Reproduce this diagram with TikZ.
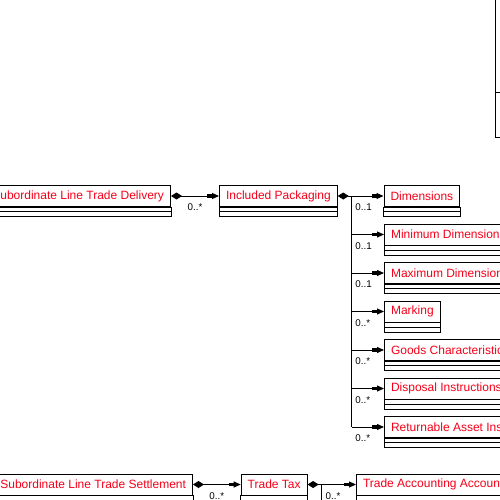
\documentclass[tikz,border=0pt]{standalone}
\usepackage{fontspec}
\setmainfont{Liberation Sans}
\usetikzlibrary{arrows.meta}

\definecolor{clsred}{RGB}{245,0,25}

% lower compartments of a class box
\newcommand{\compartments}[1]{
	\draw[line width=0.9pt] (#1.south west) rectangle ([yshift=-9.5pt]#1.south east);
	\draw[line width=0.9pt] ([yshift=-4.7pt]#1.south west) -- ([yshift=-4.7pt]#1.south east);
}

\begin{document}
\begin{tikzpicture}[x=1pt,y=-1pt]
	\tikzstyle{cls} = [
		rectangle, draw=black, line width=1pt, minimum height=21pt,
		inner xsep=6.5pt, inner ysep=0pt, text=clsred, font=\fontsize{12}{14}\selectfont
	]
	\tikzstyle{mult} = [
		inner sep=0pt, font=\fontsize{9.8}{11}\selectfont
	]
	\tikzstyle{conn} = [
		line width=1pt, -{Square[length=5pt,width=3.5pt,sep=0pt]Triangle[length=7pt,width=6pt]}
	]
	\tikzstyle{aggr} = [
		line width=1pt, {Diamond[length=11pt,width=7pt]}-{Square[length=5pt,width=3.5pt,sep=0pt]Triangle[length=7pt,width=6pt]}
	]
	\tikzstyle{owner} = [
		line width=1pt, {Diamond[length=11pt,width=7pt]}-
	]

	\useasboundingbox (0,0) rectangle (500,500);
	\clip (0,0) rectangle (500,500);

	% box top right
	\node (topBox) [draw, line width=1pt, anchor=south west, minimum width=30pt, minimum height=170pt, inner sep=0pt] at (494.7,137.7) {};
	\draw[line width=1pt] (topBox.west |- 0,93) -- (topBox.east |- 0,93);

	% Subordinate Line Trade Delivery
	\node (delivery) [cls, anchor=north east] at (171,185) {Subordinate Line Trade Delivery};
	\compartments{delivery}

	% Included Packaging
	\node (packaging) [cls, anchor=north west] at (219,185) {Included Packaging};
	\compartments{packaging}

	% children of Included Packaging
	\node (dimensions) [cls, anchor=north west] at (383.5,185)   {Dimensions};
	\node (minDim)     [cls, anchor=north west] at (384,223.5)   {Minimum Dimensions};
	\node (maxDim)     [cls, anchor=north west] at (384,262)     {Maximum Dimensions};
	\node (marking)    [cls, anchor=north west] at (384,300.5)   {Marking};
	\node (goods)      [cls, anchor=north west] at (384,339)     {Goods Characteristic};
	\node (disposal)   [cls, anchor=north west] at (384,377.5)   {Disposal Instructions};
	\node (returnable) [cls, anchor=north west] at (384,416)     {Returnable Asset Instructions};
	\foreach \target in {dimensions,minDim,maxDim,marking,goods,disposal,returnable}
		{\compartments{\target}}

	% Subordinate Line Trade Settlement
	\node (settlement) [cls, anchor=north east] at (193,473.5) {Subordinate Line Trade Settlement};
	\compartments{settlement}

	% Trade Tax
	\node (tradeTax) [cls, anchor=north west] at (240.7,473.5) {Trade Tax};
	\compartments{tradeTax}

	% Trade Accounting Account
	\node (accounting) [cls, anchor=north west] at (356,473.5) {Trade Accounting Account};
	\compartments{accounting}

	% Delivery -> Packaging
	\draw[aggr] (delivery.east) -- (packaging.west)
		node (lblPack) [mult, midway, below=7.5pt] {0..*};

	% Packaging -> children
	\coordinate (packTrunk) at ([xshift=14pt]packaging.east);
	\draw[owner] (packaging.east) -- (packTrunk);
	\draw[line width=1pt] (packTrunk) -- (packTrunk |- returnable.west);
	\foreach \target/\card in {dimensions/0..1, minDim/0..1, maxDim/0..1, marking/0..*, goods/0..*, disposal/0..*, returnable/0..*} {
		\coordinate (br-\target) at (packTrunk |- \target.west);
		\draw[conn] (br-\target) -- (\target.west);
		\node (lbl-\target) [mult, anchor=north west] at ([xshift=3.5pt,yshift=-7.5pt]br-\target) {\card};
	}

	% Settlement -> Trade Tax
	\draw[aggr] (settlement.east) -- (tradeTax.west)
		node (lblTax) [mult, midway, below=7.5pt] {0..*};

	% Trade Tax -> Trade Accounting Account
	\coordinate (taxTrunk) at ([xshift=14.3pt]tradeTax.east);
	\coordinate (taxTrunkEnd) at ([yshift=-40pt]taxTrunk);
	\draw[owner] (tradeTax.east) -- (taxTrunk);
	\draw[line width=1pt] (taxTrunk) -- (taxTrunkEnd);
	\draw[conn] (taxTrunk) -- (accounting.west);
	\node (lblAcc) [mult, anchor=north west] at ([xshift=3.5pt,yshift=-7.5pt]taxTrunk) {0..*};

\end{tikzpicture}
\end{document}
